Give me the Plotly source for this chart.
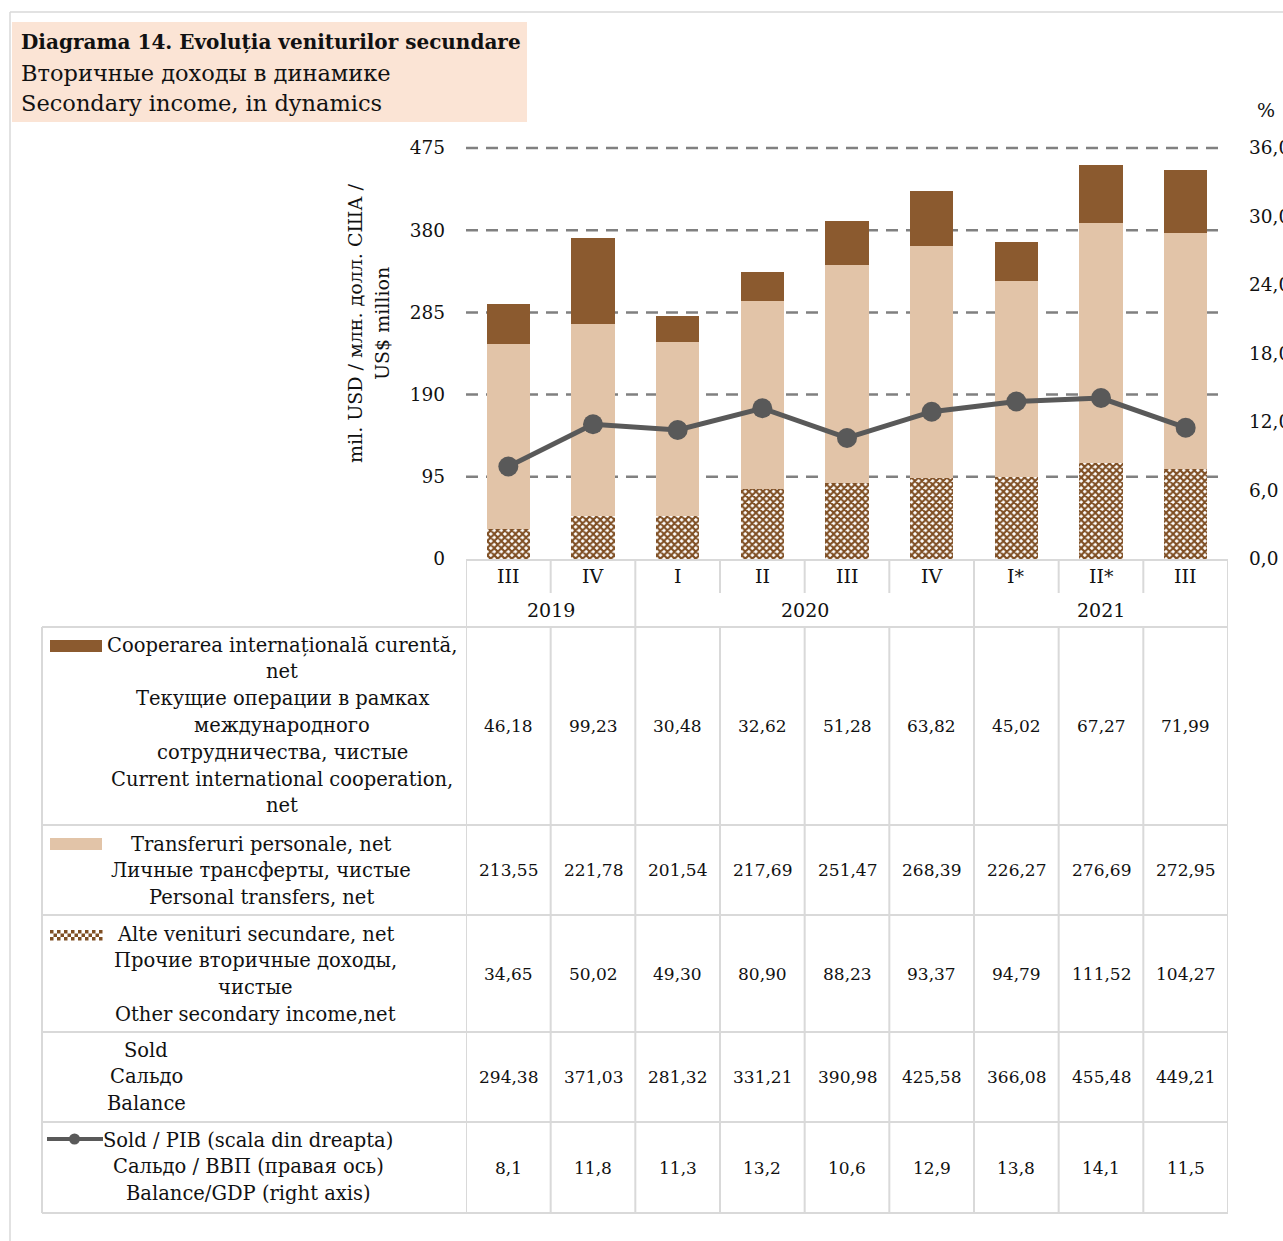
import plotly.graph_objects as go

# ---------------- data ----------------
quarters = ["III", "IV", "I", "II", "III", "IV", "I*", "II*", "III"]
quarter_year = ["2019", "2019", "2020", "2020", "2020", "2020", "2021", "2021", "2021"]
cooperation = [46.18, 99.23, 30.48, 32.62, 51.28, 63.82, 45.02, 67.27, 71.99]
personal = [213.55, 221.78, 201.54, 217.69, 251.47, 268.39, 226.27, 276.69, 272.95]
other = [34.65, 50.02, 49.30, 80.90, 88.23, 93.37, 94.79, 111.52, 104.27]
balance = [294.38, 371.03, 281.32, 331.21, 390.98, 425.58, 366.08, 455.48, 449.21]
balance_gdp = [8.1, 11.8, 11.3, 13.2, 10.6, 12.9, 13.8, 14.1, 11.5]
left_ticks = [0, 95, 190, 285, 380, 475]
right_ticks = [0.0, 6.0, 12.0, 18.0, 24.0, 30.0, 36.0]

title_lines = ["Diagrama 14. Evoluția veniturilor secundare",
               "Вторичные доходы в динамике",
               "Secondary income, in dynamics"]
axis_title_lines = ["mil. USD / млн. долл. США /", "US$ million"]
row_labels = [
    ["Cooperarea internațională curentă,", "net", "Текущие операции в рамках",
     "международного", "сотрудничества, чистые", "Current international cooperation,", "net"],
    ["Transferuri personale, net", "Личные трансферты, чистые", "Personal transfers, net"],
    ["Alte venituri secundare, net", "Прочие вторичные доходы,", "чистые",
     "Other secondary income,net"],
    ["Sold", "Сальдо", "Balance"],
    ["Sold / PIB (scala din dreapta)", "Сальдо / ВВП (правая ось)", "Balance/GDP (right axis)"],
]

# ---------------- style ----------------
W, H = 1283, 1241
FONT = "DejaVu Serif"
TXT = "#111111"
C_COOP = "#8B5A2F"
C_PERS = "#E2C4A8"
C_OTHER = "#7F4F24"
C_LINE = "#595959"
C_GRID = "#808080"
C_BORDER = "#D9D9D9"


def fx(px):
    return px / W


def fy(py):
    return 1 - py / H


def fmt(v, d):
    return f"{v:.{d}f}".replace(".", ",")


def ann(x, y, text, size, xref="paper", xanchor="center", **kw):
    d = dict(xref=xref, yref="paper", x=x, y=fy(y), xanchor=xanchor, yanchor="middle",
             showarrow=False, text=text, font=dict(family=FONT, size=size, color=TXT))
    d.update(kw)
    return d


X0, X1 = 466, 1228        # plot area in pixels
Y_TOP, Y_BOT = 148, 559   # pixel rows of the top tick and of zero
PAD = 10                  # extra room above the top tick so its gridline is not clipped
ext = (Y_BOT - Y_TOP + PAD) / (Y_BOT - Y_TOP)
xs = list(range(len(quarters)))

fig = go.Figure()
fig.add_trace(go.Bar(
    x=xs, y=other, name="other", width=0.51,
    marker=dict(color="white", line=dict(width=0),
                pattern=dict(shape="x", fgcolor=C_OTHER, bgcolor="white",
                             size=5, solidity=0.65, fillmode="replace")),
))
fig.add_trace(go.Bar(x=xs, y=personal, name="personal", width=0.51,
                     marker=dict(color=C_PERS, line=dict(width=0))))
fig.add_trace(go.Bar(x=xs, y=cooperation, name="coop", width=0.51,
                     marker=dict(color=C_COOP, line=dict(width=0))))
fig.add_trace(go.Scatter(x=xs, y=balance_gdp, yaxis="y2", mode="lines+markers",
                         line=dict(color=C_LINE, width=5),
                         marker=dict(color=C_LINE, size=20)))

shapes = []
annotations = []

# page frame
shapes.append(dict(type="line", xref="paper", yref="paper", x0=fx(10), x1=fx(1283),
                   y0=fy(12), y1=fy(12), line=dict(color=C_BORDER, width=1.5)))
shapes.append(dict(type="line", xref="paper", yref="paper", x0=fx(10), x1=fx(10),
                   y0=fy(12), y1=fy(1241), line=dict(color=C_BORDER, width=1.5)))

# title box
shapes.append(dict(type="rect", xref="paper", yref="paper", x0=fx(12), x1=fx(527),
                   y0=fy(22), y1=fy(122), fillcolor="#FBE4D5", line=dict(width=0),
                   layer="below"))
for i, (t, yy) in enumerate(zip(title_lines, [42, 73, 103])):
    annotations.append(ann(fx(19), yy, f"<b>{t}</b>" if i == 0 else t,
                           20 if i == 0 else 22.5, xanchor="left"))

# dashed gridlines
for v in left_ticks[1:]:
    shapes.append(dict(type="line", xref="paper", yref="y", x0=fx(X0), x1=fx(1224),
                       y0=v, y1=v, layer="below",
                       line=dict(color=C_GRID, width=2.5, dash="12px,8px")))

# axis titles
for t, xx in zip(axis_title_lines, [355, 382]):
    annotations.append(ann(fx(xx), 323, t, 19, textangle=-90))
annotations.append(ann(fx(1266), 110, "%", 19))

# quarter / year header cells
shapes.append(dict(type="line", xref="paper", yref="paper", x0=fx(X0), x1=fx(X1),
                   y0=fy(560), y1=fy(560), line=dict(color=C_BORDER, width=2)))
for i in range(len(quarters) + 1):
    full = (i == 0 or i == len(quarters) or quarter_year[i] != quarter_year[i - 1])
    shapes.append(dict(type="line", xref="x", yref="paper", x0=i - 0.5, x1=i - 0.5,
                       y0=fy(560), y1=fy(627 if full else 593),
                       line=dict(color=C_BORDER, width=2)))
for i, q in enumerate(quarters):
    annotations.append(ann(i, 576, q, 19, xref="x"))
years = []
for y in quarter_year:
    if y not in years:
        years.append(y)
for y in years:
    idx = [i for i, q in enumerate(quarter_year) if q == y]
    annotations.append(ann(sum(idx) / len(idx), 610, y, 19, xref="x"))

# data table
row_bounds = [627, 825, 915, 1032, 1122, 1213]
row_centers = [282, 261, 255, 146, 248]
row_first = [645, 844, 934, 1050, 1140]
row_step = [26.8, 26.5, 26.8, 26.5, 26.5]
row_vals = [
    [fmt(v, 2) for v in cooperation],
    [fmt(v, 2) for v in personal],
    [fmt(v, 2) for v in other],
    [fmt(v, 2) for v in balance],
    [fmt(v, 1) for v in balance_gdp],
]
for b in row_bounds:
    shapes.append(dict(type="line", xref="paper", yref="paper", x0=fx(42), x1=fx(X1),
                       y0=fy(b), y1=fy(b), line=dict(color=C_BORDER, width=2)))
shapes.append(dict(type="line", xref="paper", yref="paper", x0=fx(42), x1=fx(42),
                   y0=fy(627), y1=fy(1213), line=dict(color=C_BORDER, width=2)))
for i in range(len(quarters) + 1):
    shapes.append(dict(type="line", xref="x", yref="paper", x0=i - 0.5, x1=i - 0.5,
                       y0=fy(627), y1=fy(1213), line=dict(color=C_BORDER, width=2)))

for r, lines in enumerate(row_labels):
    for k, t in enumerate(lines):
        annotations.append(ann(fx(row_centers[r]), row_first[r] + k * row_step[r], t, 19.5))
    ymid = (row_bounds[r] + row_bounds[r + 1]) / 2
    for i, t in enumerate(row_vals[r]):
        annotations.append(ann(i, ymid, t, 17, xref="x"))

# legend keys
shapes.append(dict(type="rect", xref="paper", yref="paper", x0=fx(50), x1=fx(102),
                   y0=fy(640), y1=fy(652), fillcolor=C_COOP, line=dict(width=0)))
shapes.append(dict(type="rect", xref="paper", yref="paper", x0=fx(50), x1=fx(102),
                   y0=fy(838), y1=fy(850), fillcolor=C_PERS, line=dict(width=0)))
sq = 3.5
for cx in range(15):
    for cy in range(3):
        if (cx + cy) % 2 == 0:
            shapes.append(dict(type="rect", xref="paper", yref="paper",
                               x0=fx(50 + cx * sq), x1=fx(50 + (cx + 1) * sq),
                               y0=fy(930 + cy * sq), y1=fy(930 + (cy + 1) * sq),
                               fillcolor=C_OTHER, line=dict(width=0)))
shapes.append(dict(type="line", xref="paper", yref="paper", x0=fx(47), x1=fx(103),
                   y0=fy(1139), y1=fy(1139), line=dict(color=C_LINE, width=4)))
shapes.append(dict(type="circle", xref="paper", yref="paper", x0=fx(69), x1=fx(80),
                   y0=fy(1133.5), y1=fy(1144.5), fillcolor=C_LINE, line=dict(width=0)))

fig.update_layout(
    width=W, height=H, margin=dict(l=0, r=0, t=0, b=0, pad=0, autoexpand=False),
    paper_bgcolor="white", plot_bgcolor="rgba(0,0,0,0)",
    barmode="stack", showlegend=False,
    font=dict(family=FONT, color=TXT),
    xaxis=dict(domain=[fx(X0), fx(X1)], range=[-0.5, len(quarters) - 0.5],
               showticklabels=False, showgrid=False, zeroline=False, showline=False,
               automargin=False),
    yaxis=dict(domain=[fy(Y_BOT), fy(Y_TOP - PAD)], range=[0, left_ticks[-1] * ext],
               tickvals=left_ticks,
               ticktext=[str(v) for v in left_ticks], showgrid=False, zeroline=False,
               showline=False, ticklabelstandoff=20, automargin=False,
               tickfont=dict(family=FONT, size=18.5, color=TXT)),
    yaxis2=dict(domain=[fy(Y_BOT), fy(Y_TOP - PAD)], overlaying="y", side="right",
                range=[0, right_ticks[-1] * ext], tickvals=right_ticks,
                ticktext=[fmt(v, 1) for v in right_ticks], showgrid=False,
                zeroline=False, showline=False, ticklabelstandoff=20, automargin=False,
                tickfont=dict(family=FONT, size=18.5, color=TXT)),
    shapes=shapes, annotations=annotations,
)

fig.write_html(
    "out.html",
    config={"displayModeBar": False},
    post_script=(
        "document.documentElement.style.margin='0';"
        "document.documentElement.style.overflow='hidden';"
        "document.body.style.margin='0';"
        "document.body.style.overflow='hidden';"
        "var d=document.getElementById('{plot_id}');"
        "d.style.position='fixed';d.style.left='0px';d.style.top='0px';"
    ),
)
